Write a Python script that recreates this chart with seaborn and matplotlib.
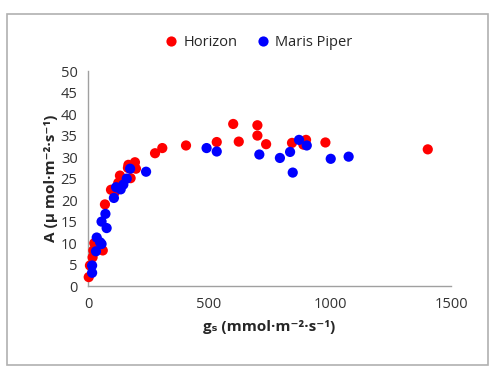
import numpy as np
import pandas as pd
import seaborn as sns
import matplotlib.pyplot as plt
from matplotlib.patches import Rectangle

# stomatal conductance (gs) and assimilation (A)
horizon_gs = [3, 8, 19, 26, 22, 61, 70, 95, 110, 132, 125, 167, 194, 198, 176, 165,
              277, 307, 405, 532, 600, 623, 700, 700, 736, 843, 901, 890, 981, 1404]
horizon_a = [2.1, 4.8, 6.7, 10.0, 8.3, 8.3, 19.0, 22.4, 21.8, 25.7, 24.0, 28.2, 28.8, 27.3, 25.1, 27.5,
             30.9, 32.1, 32.7, 33.5, 37.7, 33.6, 37.4, 35.0, 33.0, 33.3, 34.0, 32.9, 33.4, 31.8]

maris_gs = [17, 17, 33, 36, 50, 56, 56, 72, 77, 107, 116, 135, 146, 160, 174, 240,
            490, 532, 708, 793, 835, 846, 872, 904, 1003, 1077]
maris_a = [3.1, 4.8, 8.1, 11.3, 10.2, 9.8, 15.0, 16.8, 13.5, 20.5, 23.0, 22.5, 23.6, 25.0, 27.3, 26.6,
           32.1, 31.3, 30.6, 29.8, 31.2, 26.4, 34.0, 32.7, 29.6, 30.1]

df = pd.DataFrame({
    "gs": horizon_gs + maris_gs,
    "A": horizon_a + maris_a,
    "cultivar": ["Horizon"] * len(horizon_gs) + ["Maris Piper"] * len(maris_gs),
})

sns.set_style("white")
plt.rcParams['font.family'] = ['Open Sans', 'DejaVu Sans']

fig = plt.figure(figsize=(5, 3.76), dpi=100)
ax = fig.add_axes([0.176, 0.239, 0.726, 0.572])

sns.scatterplot(data=df, x="gs", y="A", hue="cultivar",
                palette={"Horizon": "#ff0000", "Maris Piper": "#0000ff"},
                s=54, linewidth=0, alpha=1, ax=ax, clip_on=False, zorder=3)

ax.set_xlim(0, 1500)
ax.set_ylim(0, 50)
ax.set_xticks([0, 500, 1000, 1500])
ax.set_yticks(np.arange(0, 51, 5))
ax.tick_params(axis="both", labelsize=10.5, colors="#333333", direction="out",
               length=4, width=1, color="#a0a0a0")
for side in ["top", "right"]:
    ax.spines[side].set_visible(False)
for side in ["left", "bottom"]:
    ax.spines[side].set_color("#a0a0a0")
    ax.spines[side].set_linewidth(1)

ax.set_xlabel("g\u209b (mmol\u00b7m\u207b\u00b2\u00b7s\u207b\u00b9)", fontsize=11, fontweight="bold",
              labelpad=6)
ax.set_ylabel("A (\u00b5 mol\u00b7m\u207b\u00b2\u00b7s\u207b\u00b9)", fontsize=11, fontweight="bold",
              labelpad=2)

leg = ax.legend(loc="lower center", bbox_to_anchor=(0.465, 1.07), ncol=2, frameon=False,
                fontsize=10.5, handletextpad=0.15, handlelength=1.4, columnspacing=1.0,
                borderaxespad=0)

fig.patches.append(Rectangle((7 / 500, 11 / 376), 481 / 500, 351 / 376, transform=fig.transFigure,
                             fill=False, edgecolor="#b0b0b0", linewidth=1.2))

plt.savefig("out.png", dpi=100)
